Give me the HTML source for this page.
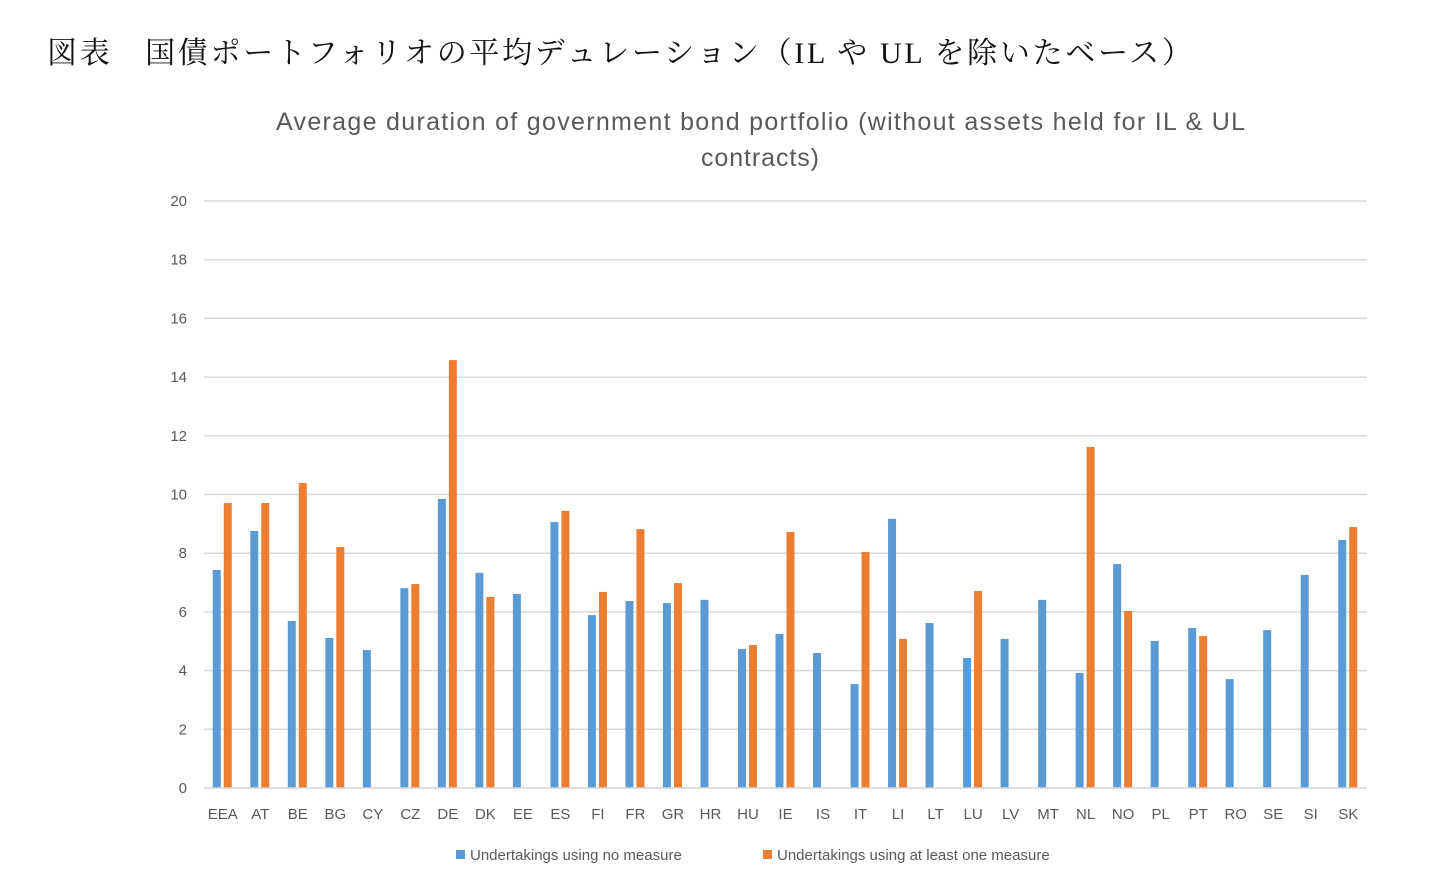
<!DOCTYPE html>
<html><head><meta charset="utf-8"><style>
body{margin:0;background:#fff;width:1429px;height:891px;overflow:hidden;}
#hdr{position:absolute;left:47px;top:28px;font:30px "Liberation Serif","Noto Serif CJK SC",serif;color:#111;white-space:nowrap;letter-spacing:2.7px;}
svg{position:absolute;left:0;top:0;}
</style></head><body>
<div id="hdr">図表　国債ポートフォリオの平均デュレーション（IL や UL を除いたベース）</div>
<svg id="c" width="1429" height="891"></svg>
<script>
const categories=["EEA","AT","BE","BG","CY","CZ","DE","DK","EE","ES","FI","FR","GR","HR","HU","IE","IS","IT","LI","LT","LU","LV","MT","NL","NO","PL","PT","RO","SE","SI","SK"];
const noMeasure=[7.43,8.76,5.69,5.11,4.70,6.81,9.85,7.33,6.61,9.06,5.89,6.37,6.30,6.41,4.74,5.25,4.60,3.54,9.17,5.62,4.43,5.08,6.41,3.92,7.63,5.01,5.45,3.71,5.38,7.26,8.45];
const oneMeasure=[9.71,9.71,10.39,8.21,null,6.95,14.58,6.51,null,9.44,6.68,8.82,6.98,null,4.87,8.72,null,8.04,5.08,null,6.71,null,null,11.62,6.03,null,5.18,null,null,null,8.89];
const yTicks=[0,2,4,6,8,10,12,14,16,18,20];
const NS="http://www.w3.org/2000/svg";
const svg=document.getElementById('c');
const x0=204,x1=1367,y0=788,y1=201,yMax=20;
const band=(x1-x0)/categories.length;
const ys=v=>y0-(v/yMax)*(y0-y1);
const xc=i=>x0+band*(i+0.5);
function mk(t,a,p){const e=document.createElementNS(NS,t);for(const k in a)e.setAttribute(k,a[k]);(p||svg).appendChild(e);return e;}
const title=mk('text',{x:276,y:130,textLength:969,lengthAdjust:'spacing','font-family':'Liberation Sans,sans-serif','font-size':25,fill:'#595959'});
title.textContent="Average duration of government bond portfolio  (without assets held for IL & UL";


const t2=mk('text',{x:701,y:166,textLength:118,lengthAdjust:'spacing','font-family':'Liberation Sans,sans-serif','font-size':25,fill:'#595959'});
t2.textContent="contracts)";


yTicks.forEach(v=>{
 const g=mk('line',{x1:x0,x2:x1,y1:ys(v),y2:ys(v),stroke:'#d9d9d9','stroke-width':1.5});
 
 
 const t=mk('text',{x:187,y:ys(v)+5,'text-anchor':'end','font-family':'Liberation Sans,sans-serif','font-size':15,fill:'#595959'});
 t.textContent=v;
 
 
});
const bw=8;
categories.forEach((c,i)=>{
 const cx=xc(i);
 const b=mk('rect',{x:cx-10,y:ys(noMeasure[i]),width:bw,height:y0-ys(noMeasure[i]),fill:'#5b9bd5'});
 
 
 if(oneMeasure[i]!=null){
  const o=mk('rect',{x:cx+1,y:ys(oneMeasure[i]),width:bw,height:y0-ys(oneMeasure[i]),fill:'#ed7d31'});
  
  
 }
 const t=mk('text',{x:cx,y:819,'text-anchor':'middle','font-family':'Liberation Sans,sans-serif','font-size':15,fill:'#595959'});
 t.textContent=c;
 
 
});
const ax=mk('line',{x1:x0,x2:x1,y1:y0,y2:y0,stroke:'#d9d9d9','stroke-width':1.5});


const leg=[["#5b9bd5","Undertakings using no measure",456],["#ed7d31","Undertakings using at least one measure",763]];
leg.forEach(([col,txt,lx])=>{
 const s=mk('rect',{x:lx,y:850,width:9,height:9,fill:col});
 
 
 const t=mk('text',{x:lx+14,y:860,'font-family':'Liberation Sans,sans-serif','font-size':15,fill:'#595959'});
 t.textContent=txt;
 
 
});
</script>
</body></html>
